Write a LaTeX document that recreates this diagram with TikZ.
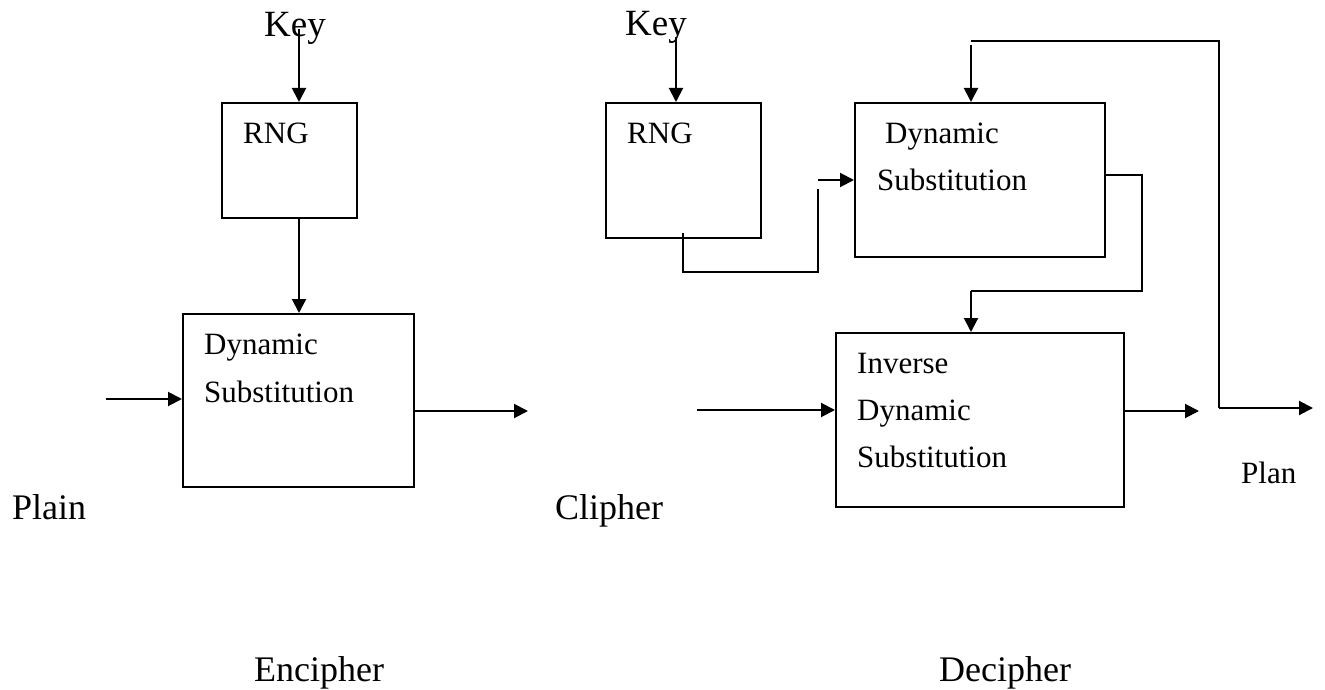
\documentclass[tikz,border=0pt]{standalone}
\usepackage{fontspec}
\setmainfont{Liberation Serif}
\usetikzlibrary{arrows.meta,calc}
\begin{document}
\begin{tikzpicture}[x=1pt,y=-1pt,
  box/.style={draw,line width=2pt,rectangle,inner sep=0pt},
  wire/.style={line width=2pt},
  arr/.style={line width=2pt,-{Triangle[length=14pt,width=14pt]}},
  boxtxt/.style={anchor=base west,inner sep=0pt,font=\fontsize{31}{37}\selectfont},
  bigtxt/.style={anchor=base west,inner sep=0pt,font=\fontsize{36}{43}\selectfont},
  keytxt/.style={anchor=base west,inner sep=0pt,font=\fontsize{37}{44}\selectfont}]
\useasboundingbox (0,0) rectangle (1325,690);
% boxes
\node[box,minimum width=135pt,minimum height=115pt] (rng1) at (289.5,160.5) {};
\node[box,minimum width=231pt,minimum height=173pt] (ds1) at (298.5,400.5) {};
\node[box,minimum width=155pt,minimum height=135pt] (rng2) at (683.5,170.5) {};
\node[box,minimum width=250pt,minimum height=154pt] (ds2) at (980,180) {};
\node[box,minimum width=288pt,minimum height=174pt] (ids) at (980,420) {};
% texts
\node[keytxt] (key1) at (264,37) {Key};
\node[keytxt] (key2) at (625,36) {Key};
\node[boxtxt] (rngt1) at (243,144) {RNG};
\node[boxtxt] (rngt2) at (627,144) {RNG};
\node[boxtxt] (ds1a) at (204,354) {Dynamic};
\node[boxtxt] (ds1b) at (204,402) {Substitution};
\node[boxtxt] (ds2a) at (885,143) {Dynamic};
\node[boxtxt] (ds2b) at (877,190) {Substitution};
\node[boxtxt] (idsa) at (857,373) {Inverse};
\node[boxtxt] (idsb) at (857,420) {Dynamic};
\node[boxtxt] (idsc) at (857,467) {Substitution};
\node[bigtxt] (plain) at (12,519) {Plain};
\node[bigtxt] (clipher) at (555,519) {Clipher};
\node[bigtxt] (enc) at (254,681) {Encipher};
\node[bigtxt] (dec) at (939,681) {Decipher};
\node[boxtxt] (plan) at (1241,483) {Plan};
% free ends
\coordinate (k1) at (299,29);
\coordinate (k2) at (676,37);
\coordinate (in1) at (106,399);
\coordinate (out1) at (528,411);
\coordinate (in2) at (697,410);
\coordinate (out2) at (1199,411);
\coordinate (r2s) at (683,233);
\coordinate (b1) at (818,272);
\coordinate (b2) at (818,189);
\coordinate (a1) at (818,180);
\coordinate (d1) at (1142,175);
\coordinate (d2) at (1142,291);
\coordinate (d3) at (971,291);
\coordinate (f1) at (1219,408);
\coordinate (f2) at (1219,41);
\coordinate (f3) at (971,41);
\coordinate (f4) at (971,45);
\coordinate (pl) at (1313,408);
% encipher connectors
\draw[arr] (k1) -- (k1 |- rng1.north);
\draw[arr] (k1 |- rng1.south) -- (k1 |- ds1.north);
\draw[arr] (in1) -- (in1 -| ds1.west);
\draw[arr] (out1 -| ds1.east) -- (out1);
% decipher connectors
\draw[arr] (k2) -- (k2 |- rng2.north);
\draw[wire] (r2s) -- (r2s |- b1) -- (b1) -- (b2);
\draw[arr] (a1) -- (a1 -| ds2.west);
\draw[wire] (d1 -| ds2.east) -- (d1) -- (d2) -- (d3);
\draw[arr] (d3) -- (d3 |- ids.north);
\draw[wire] (f1) -- (f2) -- (f3);
\draw[arr] (f4) -- (f4 |- ds2.north);
\draw[arr] (f1) -- (pl);
\draw[arr] (out2 -| ids.east) -- (out2);
\draw[arr] (in2) -- (in2 -| ids.west);
\end{tikzpicture}
\end{document}
